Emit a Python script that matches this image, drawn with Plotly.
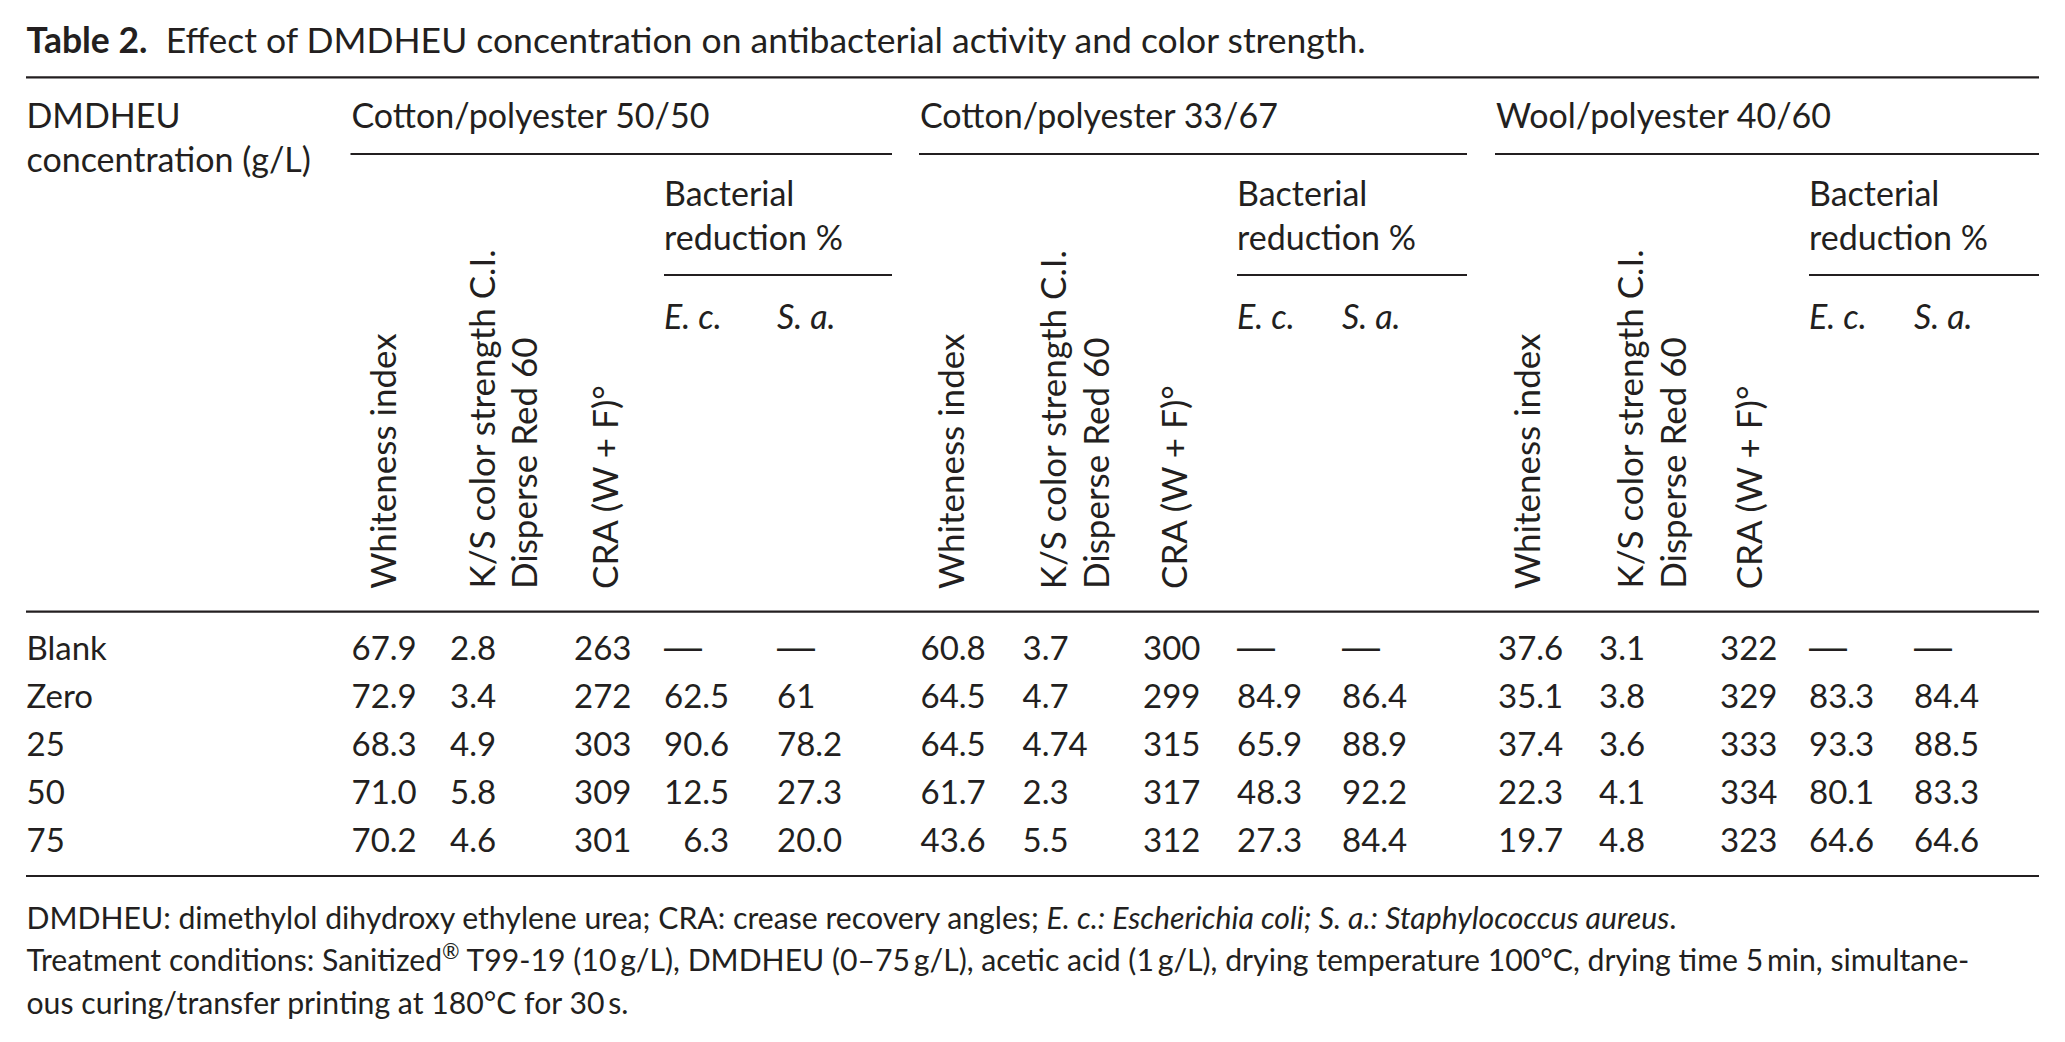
import plotly.graph_objects as go

# ---------------- data ----------------
row_labels = ["Blank", "Zero", "25", "50", "75"]
stub_header = "DMDHEU<br>concentration (g/L)"
group_names = ["Cotton/polyester 50/50", "Cotton/polyester 33/67", "Wool/polyester 40/60"]
column_headers = ["Whiteness index", "K/S color strength C.I.<br>Disperse Red 60", "CRA (W + F)°"]
bact_header = "Bacterial<br>reduction %"
bact_subheaders = ["<i>E. c.</i>", "<i>S. a.</i>"]

cp5050_whiteness = ["67.9", "72.9", "68.3", "71.0", "70.2"]
cp5050_ks = ["2.8", "3.4", "4.9", "5.8", "4.6"]
cp5050_cra = ["263", "272", "303", "309", "301"]
cp5050_ec = [None, "62.5", "90.6", "12.5", "6.3"]
cp5050_sa = [None, "61", "78.2", "27.3", "20.0"]

cp3367_whiteness = ["60.8", "64.5", "64.5", "61.7", "43.6"]
cp3367_ks = ["3.7", "4.7", "4.74", "2.3", "5.5"]
cp3367_cra = ["300", "299", "315", "317", "312"]
cp3367_ec = [None, "84.9", "65.9", "48.3", "27.3"]
cp3367_sa = [None, "86.4", "88.9", "92.2", "84.4"]

wp4060_whiteness = ["37.6", "35.1", "37.4", "22.3", "19.7"]
wp4060_ks = ["3.1", "3.8", "3.6", "4.1", "4.8"]
wp4060_cra = ["322", "329", "333", "334", "323"]
wp4060_ec = [None, "83.3", "93.3", "80.1", "64.6"]
wp4060_sa = [None, "84.4", "88.5", "83.3", "64.6"]

title_text = "<b>Table 2.</b>\u00a0\u00a0Effect of DMDHEU concentration on antibacterial activity and color strength."
footnotes = [
    "DMDHEU: dimethylol dihydroxy ethylene urea; CRA: crease recovery angles; "
    "<i>E. c.: Escherichia coli; S. a.: Staphylococcus aureus</i>.",
    "Treatment conditions: Sanitized<sup>®</sup> T99-19 (10\u2009g/L), DMDHEU (0–75\u2009g/L), "
    "acetic acid (1\u2009g/L), drying temperature 100°C, drying time 5\u2009min, simultane-",
    "ous curing/transfer printing at 180°C for 30\u2009s.",
]

groups = [
    [cp5050_whiteness, cp5050_ks, cp5050_cra, cp5050_ec, cp5050_sa],
    [cp3367_whiteness, cp3367_ks, cp3367_cra, cp3367_ec, cp3367_sa],
    [wp4060_whiteness, wp4060_ks, wp4060_cra, wp4060_ec, wp4060_sa],
]

# ---------------- layout / style ----------------
W, H = 2065, 1042
INK = "#231f20"
FONT = "Lato"
TITLE_SIZE = 35.5
HEAD = 34
BODY = 33
ROT = 35
FOOT = 30.2
LEFT, RULE_L, RIGHT = 26.5, 26, 2039
MISSING = "<span style=\"font-family:'Liberation Sans';font-size:38px\">—</span>"

group_x = [351.5, 920, 1496]
group_end = [892, 1467, RIGHT]
data_col_x = [
    [351.5, 450, 574, 664, 777],
    [920.5, 1022.5, 1143, 1237, 1342],
    [1498, 1599, 1720, 1809, 1914],
]
# centres of the rotated header lines (one list entry per text line)
rot_x = [
    [[381.7], [480, 523], [604]],
    [[950], [1051.7, 1095], [1173]],
    [[1526], [1628, 1671.7], [1748.3]],
]
row_y0, row_step = 648.3, 48
row_y = [row_y0 + i * row_step for i in range(len(row_labels))]

Y_TITLE, Y_TOP = 40.5, 77.3
Y_HEAD1, Y_HEAD2, Y_GRULE = 116, 160, 154
Y_BACT1, Y_BACT2, Y_BRULE, Y_SUB = 194, 238, 275, 316.5
Y_ROT_BOTTOM, Y_HRULE = 590, 611.7
Y_BOTTOM = 876
Y_FOOT = [918, 960.5, 1003]


def fmt_col(values):
    """decimal-align a column by padding with figure spaces"""
    present = [v for v in values if v is not None]
    width = max(len(v.split(".")[0]) for v in present)
    out = []
    for v in values:
        if v is None:
            out.append(MISSING)
        else:
            out.append("\u2007" * (width - len(v.split(".")[0])) + v)
    return out


fig = go.Figure()


def text_trace(x, y, text, size=BODY):
    # plotly puts the cap centre ~0.11 em above y for 'middle' text: compensate
    yy = [v + 0.11 * size for v in y]
    fig.add_trace(go.Scatter(
        x=x, y=yy, text=text, mode="text", textposition="middle right",
        textfont=dict(family=FONT, size=size, color=INK),
        hoverinfo="skip", showlegend=False, cliponaxis=False))


# title
text_trace([LEFT], [Y_TITLE], [title_text], size=TITLE_SIZE)

# stub header (two lines)
text_trace([LEFT], [(Y_HEAD1 + Y_HEAD2) / 2], [stub_header], size=HEAD)

# row labels
text_trace([LEFT] * len(row_labels), row_y, row_labels)

for g, cols in enumerate(groups):
    text_trace([group_x[g]], [Y_HEAD1], [group_names[g]], size=HEAD)
    bx = data_col_x[g][3]
    text_trace([bx], [(Y_BACT1 + Y_BACT2) / 2], [bact_header], size=HEAD)
    text_trace([bx, data_col_x[g][4]], [Y_SUB, Y_SUB], bact_subheaders, size=HEAD)
    for c, vals in enumerate(cols):
        text_trace([data_col_x[g][c]] * len(vals), row_y, fmt_col(vals))
    for k, h in enumerate(column_headers):
        for li, line in enumerate(h.split("<br>")):
            fig.add_annotation(
                x=rot_x[g][k][li], y=Y_ROT_BOTTOM, xref="x", yref="y", text=line,
                textangle=-90, showarrow=False, xanchor="center", yanchor="bottom",
                font=dict(family=FONT, size=ROT, color=INK), borderpad=0)

# footnotes
text_trace([LEFT] * len(footnotes), Y_FOOT, footnotes, size=FOOT)


# rules
def hline(x0, x1, y, w=2.2):
    fig.add_shape(type="line", xref="x", yref="y", x0=x0, x1=x1, y0=y, y1=y,
                  line=dict(color=INK, width=w))


hline(RULE_L, RIGHT, Y_TOP)
for g in range(3):
    hline(group_x[g] - 1, group_end[g], Y_GRULE)
    hline(data_col_x[g][3], group_end[g], Y_BRULE)
hline(RULE_L, RIGHT, Y_HRULE)
hline(RULE_L, RIGHT, Y_BOTTOM)

fig.update_layout(
    width=W, height=H, margin=dict(l=0, r=0, t=0, b=0),
    paper_bgcolor="white", plot_bgcolor="white",
    xaxis=dict(range=[0, W], visible=False, fixedrange=True),
    yaxis=dict(range=[H, 0], visible=False, fixedrange=True),
    font=dict(family=FONT, color=INK),
)

fig.write_html("out.html",
               config={"displayModeBar": False, "staticPlot": True},
               post_script="document.body.style.margin='0px';document.body.style.overflow='hidden';")
